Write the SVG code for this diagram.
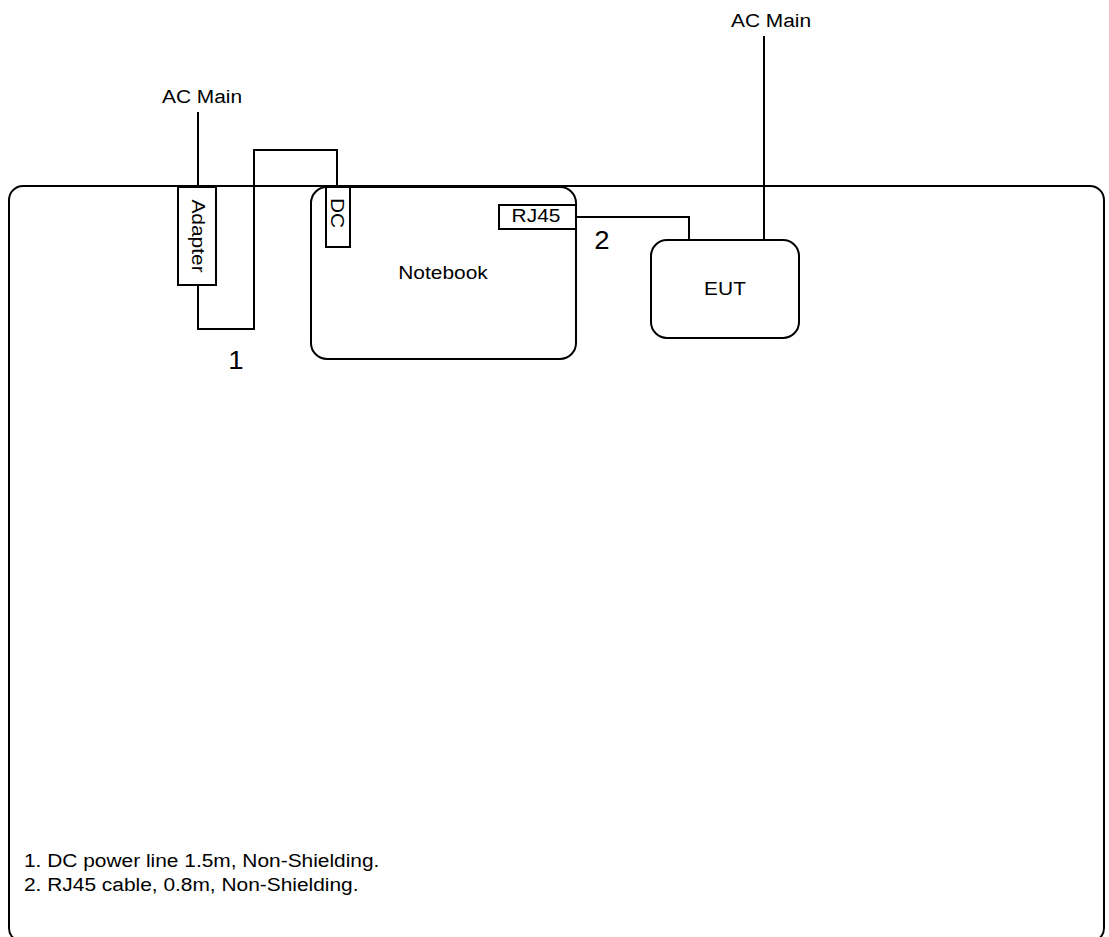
<svg xmlns="http://www.w3.org/2000/svg" width="1109" height="937" viewBox="0 0 1109 937">
<style>
.box{fill:#fff;stroke:#000;stroke-width:2}
.ln{fill:none;stroke:#000;stroke-width:2}
text{font-family:"Liberation Sans",Arial,sans-serif;font-size:19px;fill:#000}
.c{text-anchor:middle}
.big{font-size:25px}
</style>
<rect width="1109" height="937" fill="#fff"/>
<g id="frame"><rect class="box" x="9" y="186" width="1095" height="756" rx="14"/></g>
<g id="connectors">
<path class="ln" d="M198,112 V187"/>
<path class="ln" d="M198,285 V329 H254 V150 H337 V187"/>
<path class="ln" d="M576,217 H689 V240"/>
<path class="ln" d="M764,36 V240"/>
</g>
<g id="notebook">
<rect class="box" x="311" y="187" width="265" height="172" rx="16"/>
<text class="c" transform="translate(443,279) scale(1.1,1)">Notebook</text>
</g>
<g id="dc">
<rect class="box" x="326" y="187" width="24" height="60"/>
<text class="c" transform="translate(331,213) rotate(90) scale(1.1,1)">DC</text>
</g>
<g id="rj45">
<rect class="box" x="499" y="205" width="77" height="24"/>
<text class="c" transform="translate(536,222) scale(1.1,1)">RJ45</text>
</g>
<g id="adapter">
<rect class="box" x="178" y="187" width="38" height="98"/>
<text class="c" transform="translate(192,236) rotate(90) scale(1.1,1)">Adapter</text>
</g>
<g id="eut">
<rect class="box" x="651" y="240" width="148" height="98" rx="16"/>
<text class="c" transform="translate(725,295) scale(1.1,1)">EUT</text>
</g>
<g id="ac-main-left"><text class="c" transform="translate(202,103) scale(1.1,1)">AC Main</text></g>
<g id="ac-main-right"><text class="c" transform="translate(771,27) scale(1.1,1)">AC Main</text></g>
<g id="labels">
<text class="c big" transform="translate(236,369) scale(1.1,1)">1</text>
<text class="c big" transform="translate(602,249) scale(1.1,1)">2</text>
</g>
<g id="legend">
<text transform="translate(24,867) scale(1.1,1)">1. DC power line 1.5m, Non-Shielding.</text>
<text transform="translate(24,891) scale(1.1,1)">2. RJ45 cable, 0.8m, Non-Shielding.</text>
</g>
</svg>
